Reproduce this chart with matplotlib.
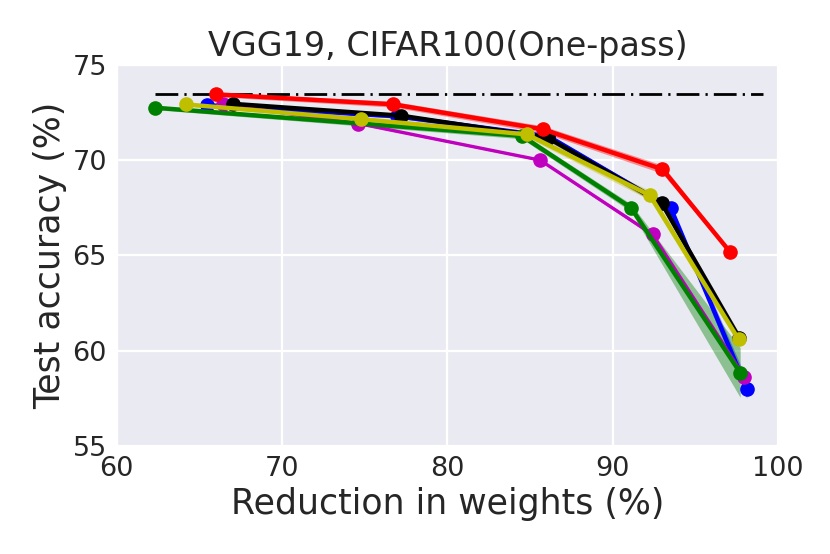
import numpy as np
import matplotlib
matplotlib.use("Agg")
import matplotlib.pyplot as plt
import seaborn as sns

sns.set_style("darkgrid")
plt.rcParams['font.family'] = ['DejaVu Sans']

baseline = 73.45
baseline_x = [62.3, 99.1]

red_x = [66.0, 76.7, 85.75, 93.0, 97.1]
red_y = [73.45, 72.93, 71.62, 69.52, 65.17]
red_s = [0.12, 0.15, 0.18, 0.22, 0.1]

black_x = [67.05, 77.2, 86.05, 92.95, 97.65]
black_y = [72.95, 72.33, 71.18, 67.75, 60.65]
black_s = [0.08, 0.1, 0.15, 0.2, 0.25]

blue_x = [65.45, 76.95, 86.1, 93.5, 98.1]
blue_y = [72.88, 72.3, 71.25, 67.48, 58.0]
blue_s = [0.08, 0.1, 0.12, 0.15, 0.5]

mag_x = [66.45, 74.6, 85.6, 92.4, 97.95]
mag_y = [72.92, 71.92, 70.0, 66.1, 58.63]
mag_s = [0.05, 0.05, 0.05, 0.1, 0.2]

green_x = [62.3, 84.5, 91.1, 97.7]
green_y = [72.75, 71.27, 67.5, 58.85]
green_s = [0.1, 0.15, 0.2, 1.3]

yellow_x = [64.2, 74.8, 84.8, 92.25, 97.6]
yellow_y = [72.92, 72.15, 71.35, 68.15, 60.6]
yellow_s = [0.08, 0.1, 0.15, 0.25, 0.25]

fig = plt.figure(figsize=(8.3, 5.54), dpi=100)
ax = fig.add_axes([0.1406, 0.195, 0.797, 0.688])
ax.grid(True, color='white', lw=1.6)

ax.plot(baseline_x, [baseline, baseline], color='k', lw=2.0,
        dashes=(8.2, 2.2, 0.8, 2.2), zorder=2)

series = [
    (red_x, red_y, red_s, 'r', 3.2),
    (black_x, black_y, black_s, 'k', 3.2),
    (blue_x, blue_y, blue_s, 'b', 3.2),
    (mag_x, mag_y, mag_s, 'm', 2.4),
    (green_x, green_y, green_s, 'g', 3.2),
    (yellow_x, yellow_y, yellow_s, 'y', 3.2),
]
# draw order: blue, magenta, black, red, green, yellow
order = [2, 3, 1, 0, 4, 5]
for i in order:
    x, y, s, c, lw = series[i]
    x = np.array(x); y = np.array(y); s = np.array(s)
    ax.fill_between(x, y - s, y + s, color=c, alpha=0.4, lw=0, zorder=3)
    ax.plot(x, y, color=c, lw=lw, marker='o', markersize=9.5, zorder=4)

ax.set_xlim(60, 100)
ax.set_ylim(55, 75)
ax.set_xticks([60, 70, 80, 90, 100])
ax.set_yticks([55, 60, 65, 70, 75])
ax.tick_params(labelsize=19.5, colors='.15')
ax.set_xlabel('Reduction in weights (%)', fontsize=25, color='.15')
ax.set_ylabel('Test accuracy (%)', fontsize=25, color='.15')
ax.set_title('VGG19, CIFAR100(One-pass)', fontsize=24, color='.15')

fig.savefig('out.png', dpi=100)
